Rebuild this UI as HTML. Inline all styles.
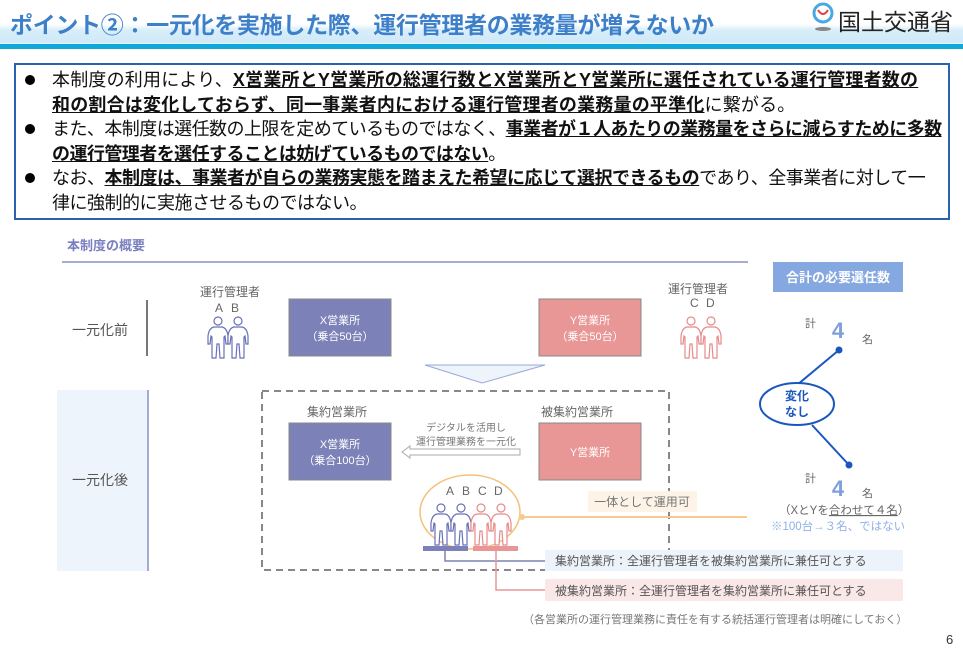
<!DOCTYPE html>
<html><head><meta charset="utf-8"><style>
body{margin:0;width:963px;height:657px;overflow:hidden;background:#fff;font-family:"Liberation Sans","Noto Sans CJK JP",sans-serif;position:relative}
.a{position:absolute;white-space:nowrap}
.box{position:absolute;left:14px;top:63px;width:932px;height:153px;border:2px solid #2a62ae;}
.l{position:absolute;left:52px;font-size:18px;line-height:24.5px;color:#111;white-space:nowrap}
.l b{font-weight:bold;text-decoration:underline}
.dot{position:absolute;left:25px;width:10px;height:10px;border-radius:50%;background:#000}
</style></head><body>
<div class="a" style="left:0;top:0;width:963px;height:47px;background:linear-gradient(#fff 0,#fff 24px,#d9eefa 30px,#cfe9f8 42px,#fff 46px)"></div>
<div class="a" style="left:0;top:44px;width:963px;height:5px;background:#0fa8d8"></div>
<div class="a" style="left:10px;top:6px;font-size:23px;font-weight:bold;color:#3d7fc8;letter-spacing:-0.3px">ポイント②：一元化を実施した際、運行管理者の業務量が増えないか</div>
<svg class="a" style="left:810px;top:2px" width="30" height="32"><circle cx="13" cy="11" r="9" fill="none" stroke="#4aa8e0" stroke-width="3"/><path d="M8 8 Q13 16 18 8" stroke="#e04040" stroke-width="2" fill="none"/><ellipse cx="13" cy="27" rx="8" ry="2" fill="#888"/></svg>
<div class="a" style="left:838px;top:3px;font-size:23px;color:#222">国土交通省</div>

<div class="box"></div>
<div class="dot" style="top:75px"></div>
<div class="dot" style="top:124px"></div>
<div class="dot" style="top:173px"></div>
<div class="l" style="top:68px;letter-spacing:0.2px">本制度の利用により、<b>X営業所とY営業所の総運行数とX営業所とY営業所に選任されている運行管理者数の<br>和の割合は変化しておらず、同一事業者内における運行管理者の業務量の平準化</b>に繋がる。</div>
<div class="l" style="top:117px;letter-spacing:-0.55px">また、本制度は選任数の上限を定めているものではなく、<b>事業者が１人あたりの業務量をさらに減らすために多数<br>の運行管理者を選任することは妨げているものではない</b>。</div>
<div class="l" style="top:166px;letter-spacing:-0.5px">なお、<b>本制度は、事業者が自らの業務実態を踏まえた希望に応じて選択できるもの</b>であり、全事業者に対して一<br>律に強制的に実施させるものではない。</div>

<svg class="a" style="left:0;top:0" width="963" height="657" font-family="Liberation Sans, Noto Sans CJK JP, sans-serif">
<defs>
<g id="p"><circle cx="0" cy="-15" r="4" fill="none"/><path d="M-4 -9 Q-9 -8 -10 0 L-10 8 L-8 8 L-7 0 L-6 1 L-6 22 L-2 22 L-1 8 L1 8 L2 22 L6 22 L6 1 L7 0 L8 8 L10 8 L10 0 Q9 -8 4 -9 Z" fill="#fff"/></g>
</defs>
<text x="67" y="250" font-size="13" font-weight="bold" fill="#7a7fbf">本制度の概要</text>
<line x1="62" y1="262" x2="748" y2="262" stroke="#8a90c8" stroke-width="1.5"/>
<text x="72" y="335" font-size="14" fill="#555">一元化前</text>
<line x1="147" y1="300" x2="147" y2="356" stroke="#777" stroke-width="2"/>
<rect x="57" y="390" width="91" height="181" fill="#edf4fb"/>
<line x1="148" y1="390" x2="148" y2="571" stroke="#8a90c8" stroke-width="1.5"/>
<text x="72" y="485" font-size="14" fill="#555">一元化後</text>

<text x="200" y="296" font-size="12" fill="#666">運行管理者</text>
<text x="215" y="312" font-size="12" fill="#666">A</text><text x="231" y="312" font-size="12" fill="#666">B</text>
<g stroke="#6a70b8" stroke-width="1.2"><use href="#p" x="218" y="336"/><use href="#p" x="238" y="336"/></g>
<rect x="289" y="299" width="102" height="57" fill="#7c82b8" stroke="#888"/>
<text x="340" y="324" font-size="11" fill="#fff" text-anchor="middle">X営業所</text>
<text x="340" y="340" font-size="11" fill="#fff" text-anchor="middle">（乗合50台）</text>
<rect x="539" y="299" width="102" height="57" fill="#e89696" stroke="#888"/>
<text x="590" y="324" font-size="11" fill="#fff" text-anchor="middle">Y営業所</text>
<text x="590" y="340" font-size="11" fill="#fff" text-anchor="middle">（乗合50台）</text>
<text x="668" y="293" font-size="12" fill="#666">運行管理者</text>
<text x="690" y="307" font-size="12" fill="#666">C</text><text x="706" y="307" font-size="12" fill="#666">D</text>
<g stroke="#e88a8a" stroke-width="1.2"><use href="#p" x="691" y="336"/><use href="#p" x="711" y="336"/></g>

<path d="M425 365 L545 365 L482 383 Z" fill="#eef4fb" stroke="#9aa8d8"/>
<rect x="262" y="391" width="407" height="179" fill="none" stroke="#888" stroke-width="2" stroke-dasharray="7,5"/>
<text x="307" y="416" font-size="12" fill="#666">集約営業所</text>
<rect x="289" y="423" width="102" height="57" fill="#7c82b8" stroke="#888"/>
<text x="340" y="448" font-size="11" fill="#fff" text-anchor="middle">X営業所</text>
<text x="340" y="464" font-size="11" fill="#fff" text-anchor="middle">（乗合100台）</text>
<text x="541" y="416" font-size="12" fill="#666">被集約営業所</text>
<rect x="539" y="423" width="102" height="57" fill="#e89696" stroke="#888"/>
<text x="590" y="456" font-size="11" fill="#fff" text-anchor="middle">Y営業所</text>
<text x="466" y="431" font-size="10" fill="#777" text-anchor="middle">デジタルを活用し</text>
<text x="466" y="445" font-size="10" fill="#777" text-anchor="middle">運行管理業務を一元化</text>
<path d="M520 449 L410 449 L410 446 L402 452 L410 458 L410 455 L520 455 Z" fill="#fff" stroke="#aaa"/>

<ellipse cx="470" cy="512" rx="50" ry="37" fill="none" stroke="#f5c07a" stroke-width="1.5"/>
<text x="446" y="495" font-size="12" fill="#666">A</text><text x="462" y="495" font-size="12" fill="#666">B</text><text x="478" y="495" font-size="12" fill="#666">C</text><text x="494" y="495" font-size="12" fill="#666">D</text>
<g stroke="#6a70b8" stroke-width="1.2"><use href="#p" x="441" y="523"/><use href="#p" x="461" y="523"/></g>
<g stroke="#e88a8a" stroke-width="1.2"><use href="#p" x="481" y="523"/><use href="#p" x="501" y="523"/></g>
<circle cx="522" cy="517" r="3" fill="#f8c890"/>
<line x1="522" y1="517" x2="747" y2="517" stroke="#f8c890" stroke-width="2"/>
<rect x="588" y="491" width="109" height="21" fill="#fdf3e6"/>
<text x="642" y="506" font-size="12" fill="#777" text-anchor="middle">一体として運用可</text>
<rect x="423" y="546" width="45" height="5" fill="#7c82b8"/>
<rect x="473" y="546" width="45" height="5" fill="#e89696"/>
<polyline points="445,551 445,561 545,561" fill="none" stroke="#7c82b8" stroke-width="1.5"/>
<polyline points="496,551 496,590 545,590" fill="none" stroke="#e89696" stroke-width="1.5"/>
<rect x="545" y="550" width="358" height="21" fill="#edf3fa"/>
<text x="555" y="565" font-size="12" fill="#555">集約営業所：全運行管理者を被集約営業所に兼任可とする</text>
<rect x="545" y="579" width="358" height="22" fill="#fae8e8"/>
<text x="555" y="595" font-size="12" fill="#555">被集約営業所：全運行管理者を集約営業所に兼任可とする</text>
<text x="523" y="623" font-size="11" fill="#777">（各営業所の運行管理業務に責任を有する統括運行管理者は明確にしておく）</text>
<text x="946" y="644" font-size="13" fill="#333">6</text>

<rect x="773" y="262" width="130" height="30" fill="#86a8e0"/>
<text x="838" y="282" font-size="13" font-weight="bold" fill="#fff" text-anchor="middle">合計の必要選任数</text>
<text x="805" y="327" font-size="11" fill="#666">計</text>
<text x="838" y="338" font-size="22" font-weight="bold" fill="#7fa0dc" text-anchor="middle">4</text>
<text x="862" y="343" font-size="11" fill="#666">名</text>
<circle cx="839" cy="350" r="3.5" fill="#1a56c0"/>
<line x1="839" y1="350" x2="797" y2="385" stroke="#1a56c0" stroke-width="2"/>
<line x1="812" y1="425" x2="849" y2="465" stroke="#1a56c0" stroke-width="2"/>
<circle cx="849" cy="465" r="3.5" fill="#1a56c0"/>
<ellipse cx="797" cy="404" rx="37" ry="21" fill="#fff" stroke="#1a56c0" stroke-width="2"/>
<text x="797" y="400" font-size="12" font-weight="bold" fill="#1a56c0" text-anchor="middle">変化</text>
<text x="797" y="416" font-size="12" font-weight="bold" fill="#1a56c0" text-anchor="middle">なし</text>
<text x="805" y="482" font-size="11" fill="#666">計</text>
<text x="838" y="496" font-size="22" font-weight="bold" fill="#7fa0dc" text-anchor="middle">4</text>
<text x="862" y="497" font-size="11" fill="#666">名</text>
<text x="779" y="514" font-size="11.5" fill="#666">（XとYを<tspan text-decoration="underline">合わせて４名</tspan>）</text>
<text x="771" y="530" font-size="11.5" fill="#8fb0e6">※100台→３名、ではない</text>
</svg>
</body></html>
